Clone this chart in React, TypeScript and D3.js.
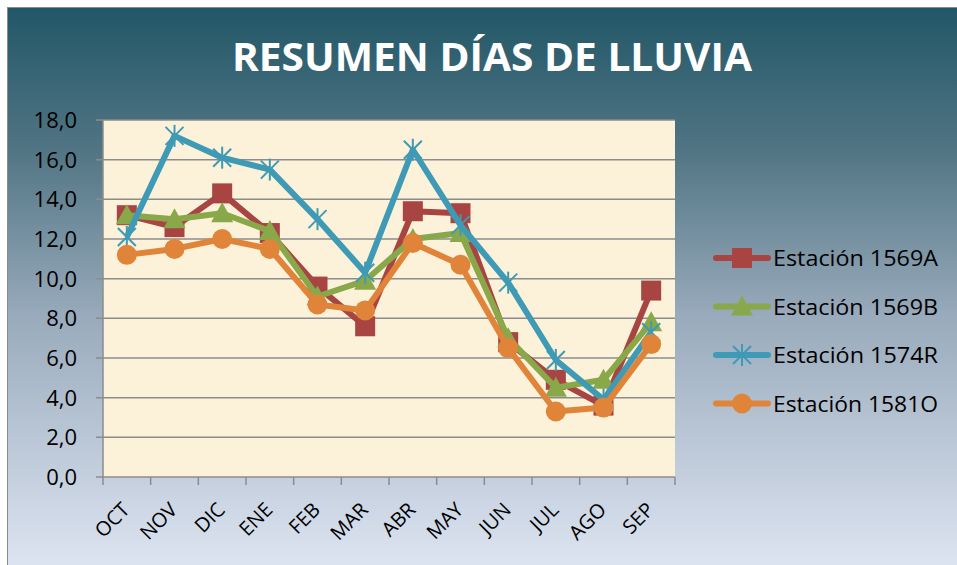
import React from "react";
import * as d3 from "d3";

const months = ["OCT", "NOV", "DIC", "ENE", "FEB", "MAR", "ABR", "MAY", "JUN", "JUL", "AGO", "SEP"];
const seriesNames = ["Estación 1569A", "Estación 1569B", "Estación 1574R", "Estación 1581O"];
const est1569A = [13.2, 12.6, 14.3, 12.3, 9.6, 7.6, 13.4, 13.3, 6.8, 4.9, 3.6, 9.4];
const est1569B = [13.2, 13.0, 13.3, 12.4, 9.1, 9.9, 12.0, 12.3, 7.0, 4.5, 4.9, 7.8];
const est1574R = [12.1, 17.2, 16.1, 15.5, 13.0, 10.3, 16.5, 12.7, 9.8, 5.9, 3.9, 7.3];
const est1581O = [11.2, 11.5, 12.0, 11.5, 8.7, 8.4, 11.8, 10.7, 6.5, 3.3, 3.5, 6.7];
const yTicks = [0, 2, 4, 6, 8, 10, 12, 14, 16, 18];

const colors = ["#a84442", "#88a84a", "#3f9ab5", "#e0843a"];
const markers = ["square", "triangle", "star", "circle"];
const allSeries = [est1569A, est1569B, est1574R, est1581O];

const W = 957;
const H = 565;
const font = "'Open Sans', 'Noto Sans', sans-serif";

const Marker = ({ type, x, y, color }: { type: string; x: number; y: number; color: string }) => {
  if (type === "square") return <rect x={x - 10} y={y - 10} width={20} height={20} fill={color} />;
  if (type === "triangle")
    return <path d={`M${x},${y - 11}L${x + 11},${y + 9}L${x - 11},${y + 9}Z`} fill={color} />;
  if (type === "circle") return <circle cx={x} cy={y} r={10} fill={color} />;
  const s = 9;
  return (
    <g stroke={color} strokeWidth={2}>
      <line x1={x - s} y1={y - s} x2={x + s} y2={y + s} />
      <line x1={x - s} y1={y + s} x2={x + s} y2={y - s} />
      <line x1={x} y1={y - s - 2} x2={x} y2={y + s + 2} />
    </g>
  );
};

export default function App() {
  const left = 103, right = 675, top = 120, bottom = 477;
  const x = d3.scaleBand<string>().domain(months).range([left, right]);
  const y = d3.scaleLinear().domain([0, 18]).range([bottom, top]);
  const cx = (m: string) => (x(m) as number) + x.bandwidth() / 2;
  const line = d3
    .line<number>()
    .x((_, i) => cx(months[i]))
    .y((d) => y(d));
  const fmt = (v: number) => v.toFixed(1).replace(".", ",");

  return (
    <svg width={W} height={H} style={{ position: "absolute", left: 0, top: 0 }}>
      <defs>
        <linearGradient id="bg" x1="0" y1="0" x2="0" y2="1">
          <stop offset="0" stopColor="#215767" />
          <stop offset="0.25" stopColor="#507483" />
          <stop offset="0.55" stopColor="#98aabb" />
          <stop offset="1" stopColor="#dde4f1" />
        </linearGradient>
      </defs>
      <rect x={7.5} y={7.5} width={W - 7} height={H - 7} fill="url(#bg)" stroke="#8a8a8a" />
      <text x={492} y={71} textAnchor="middle" fill="#fff" fontFamily={font} fontWeight="bold" fontSize={39}
        textLength={520} lengthAdjust="spacingAndGlyphs">
        RESUMEN DÍAS DE LLUVIA
      </text>

      <rect x={left} y={top} width={right - left} height={bottom - top} fill="#fcf1d9" />
      {yTicks.map((t) => (
        <g key={t}>
          <line x1={left - 7} x2={right} y1={y(t)} y2={y(t)} stroke="#8c8c8c" strokeWidth={1.5} />
          <text x={77} y={y(t) + 8} textAnchor="end" fontFamily={font} fontSize={22} fill="#000">
            {fmt(t)}
          </text>
        </g>
      ))}
      <line x1={left} x2={left} y1={top} y2={bottom} stroke="#8c8c8c" strokeWidth={1.5} />
      {months.map((m) => (
        <line key={m} x1={x(m) as number} x2={x(m) as number} y1={bottom} y2={bottom + 8}
          stroke="#8c8c8c" strokeWidth={1.5} />
      ))}
      <line x1={right} x2={right} y1={bottom} y2={bottom + 8} stroke="#8c8c8c" strokeWidth={1.5} />
      {months.map((m) => (
        <text key={m} transform={`translate(${cx(m) + 4},${bottom + 34}) rotate(-45)`} textAnchor="end"
          fontFamily={font} fontSize={20} fill="#000">
          {m}
        </text>
      ))}

      {allSeries.map((s, k) => (
        <g key={k}>
          <path d={line(s) as string} fill="none" stroke={colors[k]} strokeWidth={6} strokeLinejoin="round" />
          {s.map((v, i) => (
            <Marker key={i} type={markers[k]} x={cx(months[i])} y={y(v)} color={colors[k]} />
          ))}
        </g>
      ))}

      {seriesNames.map((n, k) => {
        const ly = 258 + k * 48.5;
        return (
          <g key={n}>
            <line x1={716} x2={768} y1={ly} y2={ly} stroke={colors[k]} strokeWidth={6} strokeLinecap="round" />
            <Marker type={markers[k]} x={742} y={ly} color={colors[k]} />
            <text x={773} y={ly + 8} fontFamily={font} fontSize={22} textLength={165}
              lengthAdjust="spacingAndGlyphs" fill="#000">
              {n}
            </text>
          </g>
        );
      })}
    </svg>
  );
}
